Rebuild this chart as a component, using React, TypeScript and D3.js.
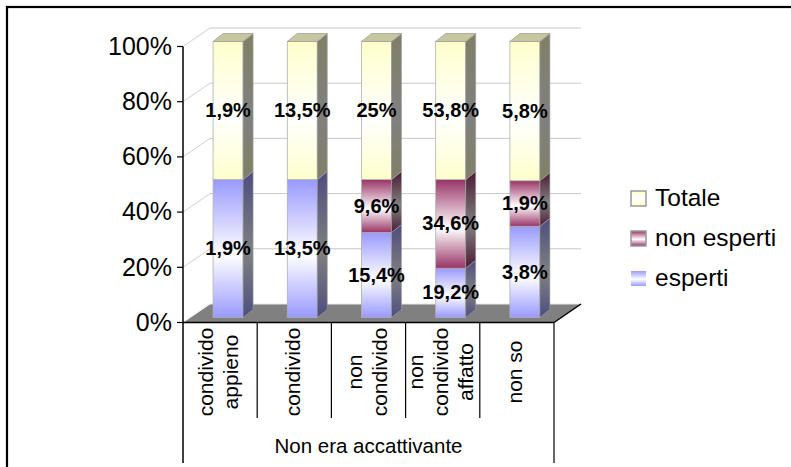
import React from "react";
import * as d3 from "d3";

// Categories (line breaks mark wrapped axis labels)
const categories = ["condivido\nappieno", "condivido", "non\ncondivido", "non\ncondivido\naffatto", "non so"];
const groupLabel = "Non era accattivante";

// Series, bottom to top in each stack
const seriesNames = ["esperti", "non esperti", "Totale"];
const esperti = [1.9, 13.5, 15.4, 19.2, 3.8];
const nonEsperti = [0, 0, 9.6, 34.6, 1.9];
const totale = [1.9, 13.5, 25, 53.8, 5.8];
const seriesColors = ["#9999ff", "#993366", "#ffffcc"];

const yTicks = [0, 0.2, 0.4, 0.6, 0.8, 1];

const W = 791;
const H = 467;
const FONT = "'Liberation Sans', Arial, sans-serif";

// Plot frame (front plane) and 3D offsets
const plotLeft = 183;
const plotRight = 554;
const wall = { dx: 27, dy: -18.5 };
const barOff = { dx: 8, dy: -5 };
const barDepth = { dx: 10, dy: -8 };
const barWidth = 30;

function shade(c: string, f: number) {
  const r = d3.rgb(c);
  return d3.rgb(r.r * f, r.g * f, r.b * f).formatHex();
}

function fmtValue(v: number) {
  return String(v).replace(".", ",") + "%";
}

export default function App() {
  const rows = categories.map((c, i) => ({
    cat: c,
    esperti: esperti[i],
    "non esperti": nonEsperti[i],
    Totale: totale[i],
  }));
  const stacked = d3
    .stack<any>()
    .keys(seriesNames)
    .offset(d3.stackOffsetExpand)(rows);

  const x = d3.scaleBand<string>().domain(categories).range([plotLeft, plotRight]).padding(0);
  const y = d3.scaleLinear().domain([0, 1]).range([322.5, 46.5]);
  const pct = d3.format(".0%");

  const backL = plotLeft + wall.dx;
  const backR = plotRight + wall.dx;
  const y0 = y(0);

  const poly = (pts: [number, number][]) => "M" + pts.map((p) => p.join(",")).join("L") + "Z";

  return (
    <svg width={W} height={H} style={{ position: "absolute", left: 0, top: 0, background: "#fff" }}>
      <defs>
        {seriesColors.map((c, i) => (
          <React.Fragment key={i}>
            <linearGradient id={`front-${i}`} x1="0" y1="0" x2="0" y2="1">
              <stop offset="0" stopColor={c} />
              <stop offset="0.55" stopColor="#ffffff" />
              <stop offset="1" stopColor={c} />
            </linearGradient>
            <linearGradient id={`side-${i}`} x1="0" y1="0" x2="0" y2="1">
              <stop offset="0" stopColor={shade(c, 0.5)} />
              <stop offset="0.55" stopColor="#808080" />
              <stop offset="1" stopColor={shade(c, 0.5)} />
            </linearGradient>
          </React.Fragment>
        ))}
      </defs>

      {/* floor */}
      <path
        d={poly([
          [plotLeft, y0],
          [backL, y0 + wall.dy],
          [backR, y0 + wall.dy],
          [plotRight, y0],
        ])}
        fill="#808080"
      />
      <line x1={plotLeft} y1={y0} x2={backL} y2={y0 + wall.dy} stroke="#e8e8e8" strokeWidth={1} />
      <line x1={backL} y1={y0 + wall.dy} x2={backR} y2={y0 + wall.dy} stroke="#e8e8e8" strokeWidth={1.2} />
      <line x1={plotRight} y1={y0} x2={backR} y2={y0 + wall.dy} stroke="#000" strokeWidth={1.5} />

      {/* gridlines on back and side walls */}
      {yTicks.filter((t) => t > 0).map((t) => (
        <g key={t}>
          <line x1={plotLeft} y1={y(t)} x2={backL} y2={y(t) + wall.dy} stroke="#d0d0d0" strokeWidth={1} />
          <line x1={backL} y1={y(t) + wall.dy} x2={backR} y2={y(t) + wall.dy} stroke="#c8c8c8" strokeWidth={1} />
        </g>
      ))}

      {/* bars */}
      {categories.map((c, ci) => {
        const xl = (x(c) as number) + x.bandwidth() / 2 + barOff.dx - barWidth / 2;
        const xr = xl + barWidth;
        return (
          <g key={c}>
            {stacked.map((s, si) => {
              const [a, b] = s[ci];
              if (b - a <= 0) return null;
              const yb = y(a) + barOff.dy;
              const yt = y(b) + barOff.dy;
              const isTop = si === stacked.length - 1;
              return (
                <g key={si}>
                  <rect x={xl} y={yt} width={barWidth} height={yb - yt} fill={`url(#front-${si})`} stroke="#b0b0b0" strokeWidth={0.8} />
                  <path
                    d={poly([
                      [xr, yt],
                      [xr + barDepth.dx, yt + barDepth.dy],
                      [xr + barDepth.dx, yb + barDepth.dy],
                      [xr, yb],
                    ])}
                    fill={`url(#side-${si})`}
                    stroke="#a0a0a0"
                    strokeWidth={0.6}
                  />
                  {isTop && (
                    <path
                      d={poly([
                        [xl, yt],
                        [xl + barDepth.dx, yt + barDepth.dy],
                        [xr + barDepth.dx, yt + barDepth.dy],
                        [xr, yt],
                      ])}
                      fill={shade(seriesColors[si], 0.78)}
                      stroke="#a0a0a0"
                      strokeWidth={0.8}
                    />
                  )}
                </g>
              );
            })}
          </g>
        );
      })}

      {/* data labels */}
      {categories.map((c, ci) => {
        const cx = (x(c) as number) + x.bandwidth() / 2 + barOff.dx;
        const vals = [esperti[ci], nonEsperti[ci], totale[ci]];
        return stacked.map((s, si) => {
          const [a, b] = s[ci];
          if (vals[si] <= 0) return null;
          const cy = y((a + b) / 2) + barOff.dy;
          return (
            <text
              key={`${ci}-${si}`}
              x={cx}
              y={cy}
              dy="0.33em"
              textAnchor="middle"
              fontFamily={FONT}
              fontWeight="bold"
              fontSize={20}
              fill="#000"
            >
              {fmtValue(vals[si])}
            </text>
          );
        });
      })}

      {/* y axis */}
      <line x1={plotLeft} y1={y(1)} x2={plotLeft} y2={463} stroke="#000" strokeWidth={1.5} />
      {yTicks.map((t) => (
        <g key={t}>
          <line x1={plotLeft - 6} y1={y(t)} x2={plotLeft} y2={y(t)} stroke="#000" strokeWidth={1.2} />
          <text x={172} y={y(t)} dy="0.33em" textAnchor="end" fontFamily={FONT} fontSize={25} fill="#000">
            {pct(t)}
          </text>
        </g>
      ))}

      {/* x axis */}
      <line x1={plotLeft} y1={y0} x2={plotRight} y2={y0} stroke="#000" strokeWidth={1.5} />
      {categories.map((c, ci) => {
        const left = x(c) as number;
        return ci > 0 ? (
          <line key={c} x1={left} y1={y0} x2={left} y2={418} stroke="#000" strokeWidth={1.2} />
        ) : null;
      })}
      <line x1={plotRight} y1={y0} x2={plotRight} y2={463} stroke="#000" strokeWidth={1.2} />
      {categories.map((c) => {
        const cx = (x(c) as number) + x.bandwidth() / 2;
        const lines = c.split("\n");
        const step = 25;
        return lines.map((ln, li) => {
          const lx = cx + 5.5 + (li - (lines.length - 1) / 2) * step;
          return (
            <text
              key={c + li}
              transform={`translate(${lx},372) rotate(-90)`}
              textAnchor="middle"
              fontFamily={FONT}
              fontSize={21}
              fill="#000"
            >
              {ln}
            </text>
          );
        });
      })}
      <text x={(plotLeft + plotRight) / 2} y={453} textAnchor="middle" fontFamily={FONT} fontSize={20.5} fill="#000">
        {groupLabel}
      </text>

      {/* legend */}
      {[...seriesNames].reverse().map((name, i) => {
        const si = seriesNames.length - 1 - i;
        const cy = 198.5 + i * 40;
        return (
          <g key={name}>
            <rect
              x={631}
              y={cy - 7.5}
              width={15}
              height={15}
              fill={`url(#front-${si})`}
              stroke={si === 0 ? "none" : "#999"}
              strokeWidth={1.5}
            />
            <text x={655} y={cy} dy="0.3em" fontFamily={FONT} fontSize={24.5} fill="#000">
              {name}
            </text>
          </g>
        );
      })}

      {/* chart border */}
      <rect x={7} y={7} width={W} height={H} fill="none" stroke="#000" strokeWidth={2.2} />
    </svg>
  );
}
